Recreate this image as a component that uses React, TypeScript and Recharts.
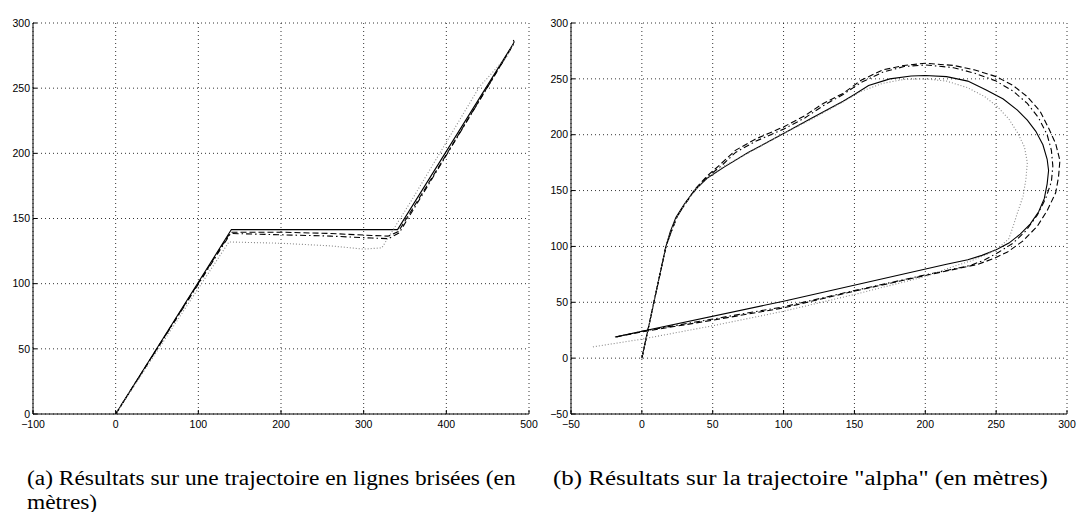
import { CartesianGrid, Line, LineChart, XAxis, YAxis } from 'recharts'

type Pt = { x: number; y: number }

// (a) trajectoire en lignes brisées
const brokenXTicks = [-100, 0, 100, 200, 300, 400, 500]
const brokenYTicks = [0, 50, 100, 150, 200, 250, 300]

const brokenRef: Pt[] = [
  { x: 0, y: 0 }, { x: 140, y: 141.5 }, { x: 341, y: 141.5 },
  { x: 480, y: 283 }, { x: 482, y: 285.5 }, { x: 481, y: 287 },
]
const brokenDashed: Pt[] = [
  { x: 0, y: 0 }, { x: 139, y: 139.5 }, { x: 200, y: 139.5 }, { x: 260, y: 138.5 },
  { x: 310, y: 137 }, { x: 330, y: 136.5 }, { x: 342, y: 140 }, { x: 400, y: 199 },
  { x: 481, y: 283.5 },
]
const brokenDashDot: Pt[] = [
  { x: 0, y: 0 }, { x: 139, y: 138.5 }, { x: 200, y: 137.5 }, { x: 260, y: 136.5 },
  { x: 310, y: 135 }, { x: 330, y: 134.5 }, { x: 343, y: 139 }, { x: 400, y: 198.5 },
  { x: 482, y: 284.5 },
]
const brokenDotted: Pt[] = [
  { x: 0, y: 0 }, { x: 137, y: 132 }, { x: 200, y: 131 }, { x: 260, y: 129 },
  { x: 300, y: 126.5 }, { x: 322, y: 127.5 }, { x: 358, y: 164 }, { x: 440, y: 251 },
  { x: 473, y: 274 }, { x: 481, y: 284 },
]

// (b) trajectoire "alpha"
const alphaXTicks = [-50, 0, 50, 100, 150, 200, 250, 300]
const alphaYTicks = [-50, 0, 50, 100, 150, 200, 250, 300]

const alphaRef: Pt[] = [
  { x: 0, y: 0 }, { x: 17, y: 100 }, { x: 20, y: 113 }, { x: 24, y: 126 }, { x: 30, y: 138 },
  { x: 37, y: 150 }, { x: 46, y: 161 }, { x: 58, y: 171 }, { x: 75, y: 184 }, { x: 100, y: 201 },
  { x: 120, y: 215 }, { x: 142, y: 230 }, { x: 150, y: 236 }, { x: 160, y: 244 }, { x: 175, y: 250 },
  { x: 190, y: 252.5 }, { x: 200, y: 253 }, { x: 215, y: 252 }, { x: 230, y: 248 }, { x: 243, y: 240 },
  { x: 255, y: 232 }, { x: 265, y: 222 }, { x: 272, y: 213 }, { x: 278, y: 203 }, { x: 283, y: 191 },
  { x: 286, y: 178 }, { x: 287, y: 168 }, { x: 286, y: 156 }, { x: 284, y: 143 }, { x: 280, y: 131 },
  { x: 274, y: 120 }, { x: 267, y: 111 }, { x: 259, y: 103 }, { x: 250, y: 97 }, { x: 240, y: 92 },
  { x: 230, y: 88 }, { x: 215, y: 84 }, { x: 100, y: 51 }, { x: -19, y: 19 },
]
const alphaDashed: Pt[] = [
  { x: 0, y: 0 }, { x: 17, y: 100 }, { x: 21, y: 114 }, { x: 25, y: 127 }, { x: 31, y: 139 },
  { x: 38, y: 152 }, { x: 46, y: 163 }, { x: 55, y: 173 }, { x: 66, y: 186 }, { x: 80, y: 196 },
  { x: 100, y: 207 }, { x: 115, y: 217 }, { x: 128, y: 228 }, { x: 142, y: 237 }, { x: 155, y: 249 },
  { x: 170, y: 258 }, { x: 185, y: 262 }, { x: 200, y: 264 }, { x: 220, y: 262 }, { x: 235, y: 258 },
  { x: 250, y: 252 }, { x: 262, y: 244 }, { x: 272, y: 234 }, { x: 281, y: 221 }, { x: 287, y: 206 },
  { x: 292, y: 192 }, { x: 295, y: 177 }, { x: 294, y: 162 }, { x: 292, y: 148 }, { x: 286, y: 132 },
  { x: 279, y: 118 }, { x: 269, y: 105 }, { x: 258, y: 95 }, { x: 248, y: 89 }, { x: 237, y: 84 },
  { x: 200, y: 74 }, { x: 150, y: 60 }, { x: 100, y: 45 }, { x: 50, y: 34 }, { x: 0, y: 23.5 },
  { x: -18, y: 19 },
]
const alphaDashDot: Pt[] = [
  { x: 0, y: 0 }, { x: 17, y: 100 }, { x: 21, y: 114 }, { x: 25, y: 127 }, { x: 31, y: 139 },
  { x: 38, y: 151 }, { x: 46, y: 162 }, { x: 56, y: 172 }, { x: 66, y: 184 }, { x: 80, y: 194 },
  { x: 100, y: 205 }, { x: 115, y: 215 }, { x: 128, y: 226 }, { x: 142, y: 236 }, { x: 155, y: 247 },
  { x: 170, y: 256 }, { x: 185, y: 261 }, { x: 200, y: 262.5 }, { x: 220, y: 260 }, { x: 235, y: 255 },
  { x: 250, y: 248 }, { x: 262, y: 239 }, { x: 272, y: 228 }, { x: 280, y: 215 }, { x: 286, y: 200 },
  { x: 289, y: 186 }, { x: 290, y: 172 }, { x: 289, y: 158 }, { x: 285, y: 143 }, { x: 279, y: 128 },
  { x: 271, y: 114 }, { x: 262, y: 103 }, { x: 252, y: 95 }, { x: 242, y: 88 }, { x: 232, y: 83 },
  { x: 200, y: 74.5 }, { x: 150, y: 60.5 }, { x: 100, y: 46 }, { x: 50, y: 35 }, { x: 0, y: 24 },
  { x: -18, y: 19 },
]
const alphaDotted: Pt[] = [
  { x: 0, y: 0 }, { x: 17, y: 100 }, { x: 21, y: 114 }, { x: 25, y: 127 }, { x: 31, y: 139 },
  { x: 38, y: 151 }, { x: 47, y: 162 }, { x: 58, y: 172 }, { x: 80, y: 187 }, { x: 100, y: 201 },
  { x: 120, y: 214 }, { x: 140, y: 228 }, { x: 155, y: 239 }, { x: 170, y: 246 }, { x: 185, y: 249.5 },
  { x: 200, y: 250 }, { x: 215, y: 248 }, { x: 230, y: 242 }, { x: 242, y: 234 }, { x: 251, y: 225 },
  { x: 259, y: 214 }, { x: 265, y: 202 }, { x: 270, y: 189 }, { x: 272, y: 175 }, { x: 271, y: 160 },
  { x: 269, y: 145 }, { x: 265, y: 130 }, { x: 262, y: 118 }, { x: 259, y: 107 }, { x: 252, y: 99 },
  { x: 244, y: 93 }, { x: 232, y: 87 }, { x: 222, y: 83 }, { x: 200, y: 73 }, { x: 150, y: 57 },
  { x: 100, y: 42 }, { x: 50, y: 29 }, { x: 0, y: 17 }, { x: -35, y: 10 },
]

const styles = [
  { key: 'ref', color: '#000', dash: undefined },
  { key: 'dashed', color: '#000', dash: '6 3' },
  { key: 'dashdot', color: '#000', dash: '6 3 1.5 3' },
  { key: 'dotted', color: '#888', dash: '1 2' },
] as const

const minus = (v: number) => String(v).replace('-', '\u2212')
const tickFont = { fontSize: 10.5, fill: '#000', fontFamily: 'Liberation Sans, Arial, sans-serif' }

interface PlotProps {
  left: number
  width: number
  xDomain: [number, number]
  yDomain: [number, number]
  xTicks: number[]
  yTicks: number[]
  series: Pt[][]
}

function Plot({ left, width, xDomain, yDomain, xTicks, yTicks, series }: PlotProps) {
  return (
    <div style={{ position: 'absolute', left, top: 0 }}>
      <LineChart width={width} height={440} margin={{ top: 23, right: width - 529, left: 0, bottom: 0 }}>
        <CartesianGrid xAxisId="b" yAxisId="l" stroke="#000" strokeDasharray="1 3" strokeWidth={0.8} />
        <XAxis
          xAxisId="b"
          type="number"
          dataKey="x"
          domain={xDomain}
          ticks={xTicks}
          interval={0}
          allowDataOverflow
          height={26}
          tickSize={-4}
          tickMargin={11}
          tick={tickFont}
          tickFormatter={minus}
          axisLine={{ stroke: '#000' }}
          tickLine={{ stroke: '#000' }}
        />
        <XAxis
          xAxisId="t"
          orientation="top"
          type="number"
          dataKey="x"
          domain={xDomain}
          ticks={xTicks}
          interval={0}
          allowDataOverflow
          height={0}
          tickSize={-4}
          tick={false}
          axisLine={{ stroke: '#000' }}
          tickLine={{ stroke: '#000' }}
        />
        <YAxis
          yAxisId="l"
          type="number"
          dataKey="y"
          domain={yDomain}
          ticks={yTicks}
          interval={0}
          allowDataOverflow
          width={33}
          tickSize={-4}
          tickMargin={7}
          tick={tickFont}
          tickFormatter={minus}
          axisLine={{ stroke: '#000' }}
          tickLine={{ stroke: '#000' }}
        />
        <YAxis
          yAxisId="r"
          orientation="right"
          type="number"
          dataKey="y"
          domain={yDomain}
          ticks={yTicks}
          interval={0}
          allowDataOverflow
          width={0}
          tickSize={-4}
          tick={false}
          axisLine={{ stroke: '#000' }}
          tickLine={{ stroke: '#000' }}
        />
        {series.map((data, i) => (
          <Line
            key={styles[i].key}
            xAxisId="b"
            yAxisId="l"
            data={data}
            dataKey="y"
            type="linear"
            stroke={styles[i].color}
            strokeWidth={1.1}
            strokeDasharray={styles[i].dash}
            dot={false}
            activeDot={false}
            isAnimationActive={false}
          />
        ))}
      </LineChart>
    </div>
  )
}

const caption = {
  position: 'absolute' as const,
  fontFamily: 'Liberation Serif, Times New Roman, serif',
  fontSize: 20,
  lineHeight: '20px',
  whiteSpace: 'nowrap' as const,
  color: '#000',
  transformOrigin: 'left top',
}

export default function App() {
  return (
    <div style={{ position: 'absolute', left: 0, top: 0, width: 1078, height: 512, overflow: 'hidden', background: '#fff' }}>
      <Plot
        left={0}
        width={550}
        xDomain={[-100, 500]}
        yDomain={[0, 300]}
        xTicks={brokenXTicks}
        yTicks={brokenYTicks}
        series={[brokenRef, brokenDashed, brokenDashDot, brokenDotted]}
      />
      <Plot
        left={538}
        width={540}
        xDomain={[-50, 300]}
        yDomain={[-50, 300]}
        xTicks={alphaXTicks}
        yTicks={alphaYTicks}
        series={[alphaRef, alphaDashed, alphaDashDot, alphaDotted]}
      />
      <div style={{ ...caption, left: 27, top: 468, transform: 'scaleX(1.17)' }}>
        (a) Résultats sur une trajectoire en lignes brisées (en
      </div>
      <div style={{ ...caption, left: 27, top: 492, transform: 'scaleX(1.17)' }}>mètres)</div>
      <div style={{ ...caption, left: 553, top: 468, transform: 'scaleX(1.247)' }}>
        (b) Résultats sur la trajectoire "alpha" (en mètres)
      </div>
    </div>
  )
}
